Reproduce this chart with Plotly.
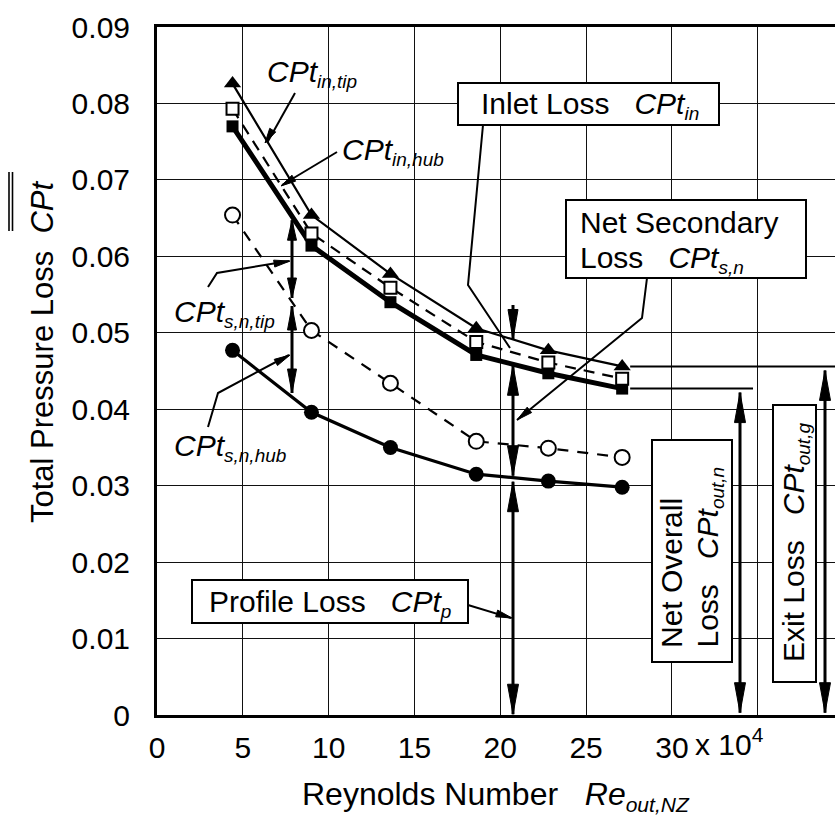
import numpy as np
import plotly.graph_objects as go

# ---------------- data ----------------
re_x = [4.4, 9.0, 13.6, 18.6, 22.8, 27.1]          # Reynolds number (x 10^4)
cpt_in_tip = [0.0826, 0.0654, 0.0577, 0.0506, 0.0477, 0.0456]   # filled triangles
cpt_in_mid = [0.0793, 0.0630, 0.0559, 0.0488, 0.0461, 0.0440]   # open squares
cpt_in_hub = [0.0770, 0.0614, 0.0540, 0.0471, 0.0447, 0.0427]   # filled squares
cpt_sn_tip = [0.0654, 0.0503, 0.0434, 0.0358, 0.0349, 0.0337]   # open circles
cpt_sn_hub = [0.0477, 0.0396, 0.0350, 0.0315, 0.0306, 0.0298]   # filled circles

x_tick_vals = [0, 5, 10, 15, 20, 25, 30, 35]
x_tick_text = ["0", "5", "10", "15", "20", "25", "30", ""]
y_tick_vals = [0, 0.01, 0.02, 0.03, 0.04, 0.05, 0.06, 0.07, 0.08, 0.09]
y_tick_text = ["0", "0.01", "0.02", "0.03", "0.04", "0.05", "0.06", "0.07", "0.08", "0.09"]

# ---------------- layout geometry ----------------
W, H = 835, 817
ML, MT, MB, MR = 157, 27, 102, 0
XMAX, YMAX = 39.5, 0.09
PW, PH = W - ML - MR, H - MT - MB
XS, YS = PW / XMAX, PH / YMAX
FONT = "Liberation Sans, Arial, Helvetica, sans-serif"


def dx(px):
    return (px - ML) / XS


def dy(py):
    return (H - MB - py) / YS


def to_px(x):
    return ML + x * XS


def to_py(y):
    return H - MB - y * YS


def paper_x(px):
    return (px - ML) / PW


def paper_y(py):
    return (H - MB - py) / PH


shapes = []


def seg(points, width=2.0):
    """polyline given in pixel coordinates"""
    p = "M" + " L".join(f"{dx(a):.5f},{dy(b):.6f}" for a, b in points)
    shapes.append(dict(type="path", xref="x", yref="y", path=p,
                       line=dict(color="black", width=width), layer="above"))


def head(tip, frm, length=26, width=10):
    """filled arrow head (pixel coords), tip at `tip`, pointing away from `frm`"""
    tx, ty = tip
    fx, fy = frm
    vx, vy = tx - fx, ty - fy
    n = (vx * vx + vy * vy) ** 0.5
    ux, uy = vx / n, vy / n
    bx, by = tx - ux * length, ty - uy * length
    nx, ny = -uy * width / 2, ux * width / 2
    pts = [(tx, ty), (bx + nx, by + ny), (bx - nx, by - ny)]
    p = "M" + " L".join(f"{dx(a):.5f},{dy(b):.6f}" for a, b in pts) + " Z"
    shapes.append(dict(type="path", xref="x", yref="y", path=p,
                       fillcolor="black", line=dict(color="black", width=1), layer="above"))


def varrow(x, y_top, y_bot, up=True, down=True, lw=3, hl=26, hw=10):
    """vertical arrow at data x between data y values"""
    px = to_px(x)
    pt, pb = to_py(y_top), to_py(y_bot)
    seg([(px, pt), (px, pb)], lw)
    if up:
        head((px, pt), (px, pb), hl, hw)
    if down:
        head((px, pb), (px, pt), hl, hw)


def interp(x, ys):
    return float(np.interp(x, re_x, ys))


def box(x0, y0, x1, y1):
    shapes.append(dict(type="rect", xref="x", yref="y", x0=dx(x0), x1=dx(x1),
                       y0=dy(y1), y1=dy(y0), fillcolor="white",
                       line=dict(color="black", width=2), layer="above"))


annotations = []


def text(px, py, s, size=30, xanchor="center", yanchor="middle", angle=0,
         align="left"):
    annotations.append(dict(x=paper_x(px), y=paper_y(py), xref="paper", yref="paper",
                            text=s, showarrow=False, xanchor=xanchor, yanchor=yanchor,
                            textangle=angle, align=align,
                            font=dict(family=FONT, size=size, color="black")))


def sub(s, size=19):
    return f"<sub><span style='font-size:{size}px'>{s}</span></sub>"


def cpt(s, size=19):
    return f"<i>CPt{sub(s, size)}</i>"


# ---------------- figure ----------------
fig = go.Figure()
fig.add_trace(go.Scatter(x=re_x, y=cpt_in_hub, mode="lines+markers",
                         line=dict(color="black", width=5),
                         marker=dict(symbol="square", size=12, color="black")))
fig.add_trace(go.Scatter(x=re_x, y=cpt_in_tip, mode="lines+markers",
                         line=dict(color="black", width=2.2),
                         marker=dict(symbol="triangle-up", size=15, color="black")))
fig.add_trace(go.Scatter(x=re_x, y=cpt_in_mid, mode="lines+markers",
                         line=dict(color="black", width=2.2, dash="11px,8px"),
                         marker=dict(symbol="square", size=12, color="white",
                                     line=dict(color="black", width=2))))
fig.add_trace(go.Scatter(x=re_x, y=cpt_sn_tip, mode="lines+markers",
                         line=dict(color="black", width=2.2, dash="11px,9px"),
                         marker=dict(symbol="circle", size=15, color="white",
                                     line=dict(color="black", width=2))))
fig.add_trace(go.Scatter(x=re_x, y=cpt_sn_hub, mode="lines+markers",
                         line=dict(color="black", width=3.2),
                         marker=dict(symbol="circle", size=15, color="black")))

# horizontal extension lines at the last point
last_x_px = to_px(re_x[-1]) + 8
seg([(last_x_px, to_py(cpt_in_tip[-1])), (W, to_py(cpt_in_tip[-1]))], 2)
seg([(last_x_px, to_py(cpt_in_hub[-1])), (753, to_py(cpt_in_hub[-1]))], 2)

# vertical loss arrows
xa = dx(292)
varrow(xa, interp(xa, cpt_in_hub) - 4 / YS, interp(xa, cpt_sn_tip) + 4 / YS, hl=20, hw=9)
varrow(xa, interp(xa, cpt_sn_tip) - 4 / YS, interp(xa, cpt_sn_hub) + 4 / YS, hl=24, hw=9)
xb = dx(513)
px_b = to_px(xb)
seg([(px_b, 305), (px_b, to_py(interp(xb, cpt_in_tip)))], 3)
head((px_b, to_py(interp(xb, cpt_in_tip))), (px_b, 305), 30, 10)
varrow(xb, interp(xb, cpt_in_hub) - 1 / YS, interp(xb, cpt_sn_hub) + 2 / YS, hl=30, hw=11)
varrow(xb, interp(xb, cpt_sn_hub) - 4 / YS, 0.0001, hl=30, hw=11)
varrow(dx(740), cpt_in_hub[-1] - 4 / YS, 0.0003, hl=30, hw=11)
varrow(dx(825), cpt_in_tip[-1] - 4 / YS, 0.0003, hl=30, hw=11)

# leaders
seg([(295, 93), (267, 143)], 2)
head((265, 143), (295, 93), 15, 7)
seg([(337, 152), (282, 185)], 2)
head((281, 186), (337, 152), 15, 7)
seg([(208, 287), (217, 273), (289, 261)], 2)
head((290, 261), (217, 273), 16, 7)
seg([(208, 427), (218, 393), (289, 355)], 2)
head((290, 355), (218, 393), 16, 7)
seg([(483, 125), (468, 285), (510, 348)], 2)
seg([(647, 278), (642, 318), (517, 420)], 2)
head((517, 420), (642, 318), 16, 7)
seg([(468, 605), (511, 618)], 2)
head((512, 618), (468, 605), 16, 7)

# boxes
box(458, 83, 719, 125)
box(566, 200, 806, 278)
box(192, 580, 468, 623)
box(652, 440, 732, 662)
box(773, 405, 816, 682)

NB = "\u00a0"
text(265, 73, cpt("in,tip"), xanchor="left")
text(340, 151, cpt("in,hub"), xanchor="left")
text(172, 313, cpt("s,n,tip"), xanchor="left")
text(172, 447, cpt("s,n,hub"), xanchor="left")
text(590, 106, f"Inlet Loss{NB*3}{cpt('in')}")
text(578, 223, "Net Secondary", xanchor="left")
text(578, 259, f"Loss{NB*3}{cpt('s,n')}", xanchor="left")
text(330, 603, f"Profile Loss{NB*3}{cpt('p')}")
text(671, 650, "Net Overall", angle=-90, yanchor="bottom")
text(709, 650, f"Loss{NB*3}{cpt('out,n')}", angle=-90, yanchor="bottom")
text(795, 543, f"Exit Loss{NB*3}{cpt('out,g')}", angle=-90)

# axis titles
text(300, 796, f"Reynolds Number{NB*3}<i>Re{sub('out,NZ', 21)}</i>", size=32, xanchor="left")
text(43, 352, f"Total Pressure Loss{NB*2}<i>CPt</i>", size=31, angle=-90)
text(693, 742, "x 10<sup>4</sup>", size=30, xanchor="left")
# double over-bar on CPt of the y title
for bx_ in (9, 12.5):
    shapes.append(dict(type="line", xref="paper", yref="paper",
                       x0=paper_x(bx_), x1=paper_x(bx_), y0=paper_y(172), y1=paper_y(231),
                       line=dict(color="black", width=1.6)))

axis_common = dict(showgrid=True, gridcolor="#111", gridwidth=1, zeroline=False,
                   showline=True, linecolor="black", linewidth=3, ticks="",
                   tickfont=dict(family=FONT, size=30, color="black"))

fig.update_layout(
    width=W, height=H,
    margin=dict(l=ML, r=MR, t=MT, b=MB, pad=0),
    paper_bgcolor="white", plot_bgcolor="white",
    showlegend=False,
    xaxis=dict(range=[0, XMAX], tickvals=x_tick_vals, ticktext=x_tick_text,
               mirror=True, ticklabelstandoff=4, **axis_common),
    yaxis=dict(range=[0, YMAX], tickvals=y_tick_vals, ticktext=y_tick_text,
               mirror=False, ticklabelstandoff=18, **axis_common),
    shapes=shapes,
    annotations=annotations,
)

fig.write_html("out.html")
